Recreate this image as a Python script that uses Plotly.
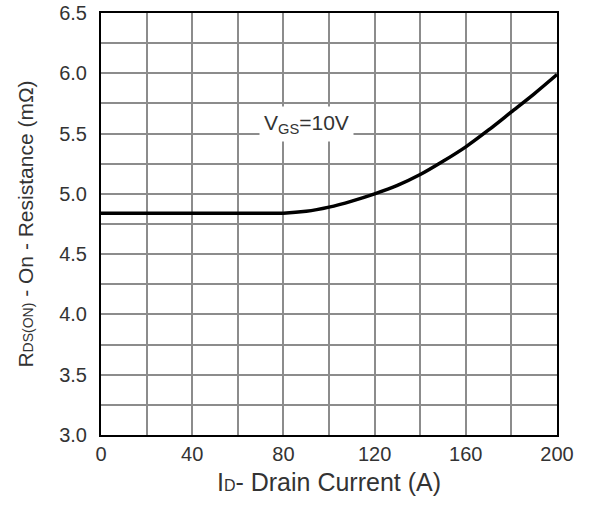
import plotly.graph_objects as go

# Drain current (A) and on-resistance (mOhm) at VGS = 10 V
drain_current = [0, 20, 40, 60, 80, 90, 100, 110, 120, 130, 140, 150, 160, 170, 180, 190, 200]
r_ds_on = [4.84, 4.84, 4.84, 4.84, 4.84, 4.855, 4.89, 4.94, 5.0, 5.07, 5.16, 5.27, 5.39, 5.53, 5.68, 5.83, 5.99]

x_ticks = [0, 40, 80, 120, 160, 200]
y_ticks = [3.0, 3.5, 4.0, 4.5, 5.0, 5.5, 6.0, 6.5]

FONT = "Liberation Sans, Arial, sans-serif"
TEXT = "#333333"
GRID = "#8c8c8c"

fig = go.Figure()
fig.add_trace(go.Scatter(
    x=drain_current, y=r_ds_on, mode="lines",
    line=dict(color="black", width=3.5, shape="spline", smoothing=0.8),
    hoverinfo="skip", showlegend=False,
))

fig.add_annotation(
    x=90, y=5.58, xref="x", yref="y",
    text="V<sub>GS</sub>=10V", showarrow=False,
    font=dict(family=FONT, size=21, color=TEXT),
    bgcolor="white", borderpad=4,
)

axis_common = dict(
    showline=True, linecolor="black", linewidth=2, mirror=True,
    showgrid=True, gridcolor=GRID, gridwidth=1.5,
    zeroline=False, ticks="",
    tickfont=dict(family=FONT, size=20, color=TEXT),
)

fig.update_xaxes(
    range=[0, 200], tickvals=x_ticks, ticktext=[str(v) for v in x_ticks],
    minor=dict(dtick=20, tick0=0, showgrid=True, gridcolor=GRID, gridwidth=1.5),
    title=dict(text="I<span style='font-size:16px'>D</span>- Drain Current (A)",
               font=dict(family=FONT, size=25, color=TEXT), standoff=9),
    ticklabelstandoff=0,
    **axis_common,
)
fig.update_yaxes(
    range=[3.0, 6.5], tickvals=y_ticks, ticktext=[f"{v:.1f}" for v in y_ticks],
    minor=dict(dtick=0.25, tick0=3.0, showgrid=True, gridcolor=GRID, gridwidth=1.5),
    title=dict(text="R<span style='font-size:14px'>DS(ON)</span> - On - Resistance (mΩ)",
               font=dict(family=FONT, size=21, color=TEXT), standoff=20),
    ticklabelstandoff=8,
    **axis_common,
)

fig.update_layout(
    width=591, height=505,
    margin=dict(l=101, r=34, t=13, b=70, autoexpand=False),
    paper_bgcolor="white", plot_bgcolor="white",
)

fig.write_html("out.html")
